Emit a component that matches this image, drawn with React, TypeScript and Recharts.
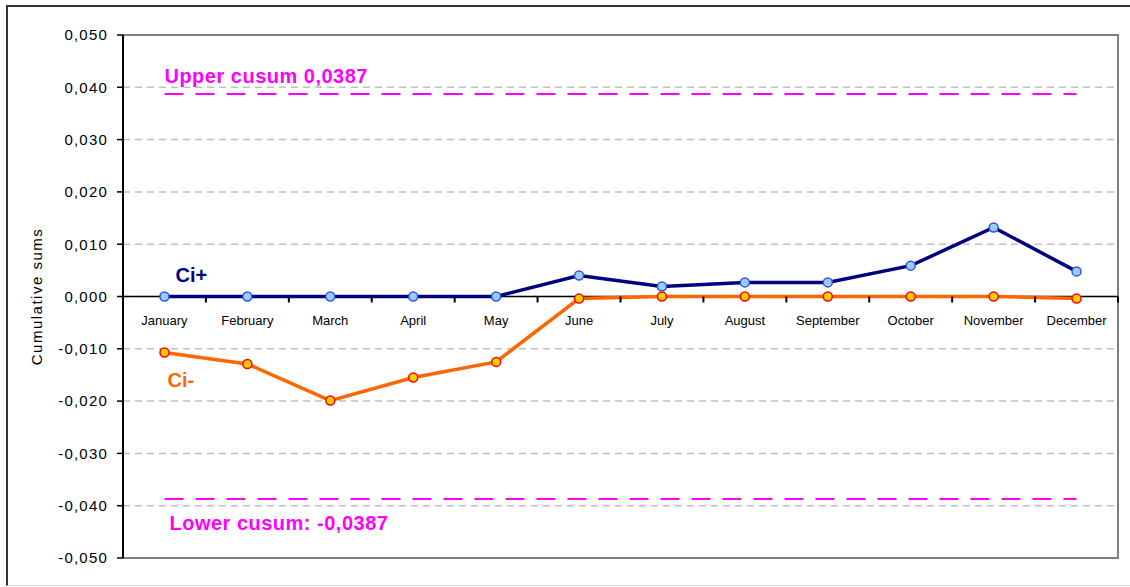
import React from 'react';
import {
  LineChart, Line, XAxis, YAxis, CartesianGrid, ReferenceLine, ReferenceArea, LabelList,
} from 'recharts';

const months = ['January', 'February', 'March', 'April', 'May', 'June', 'July', 'August', 'September', 'October', 'November', 'December'];
const ciPlus = [0, 0, 0, 0, 0, 0.0040, 0.0019, 0.0027, 0.0027, 0.0059, 0.0132, 0.0048];
const ciMinus = [-0.0107, -0.0129, -0.0199, -0.0155, -0.0125, -0.0004, 0, 0, 0, 0, 0, -0.0004];
const yTicks = [-0.05, -0.04, -0.03, -0.02, -0.01, 0, 0.01, 0.02, 0.03, 0.04, 0.05];
const upperCusum = 0.0387;
const lowerCusum = -0.0387;
const upperLabel = 'Upper cusum 0,0387';
const lowerLabel = 'Lower cusum: -0,0387';
const yTitle = 'Cumulative sums';

const data = months.map((m, i) => ({ month: m, plus: ciPlus[i], minus: ciMinus[i] }));

const W = 1130;
const H = 587;
const M = { top: 35, right: 12, bottom: 0, left: 0 };
const Y_AXIS_W = 123;
const X_AXIS_H = 29;
const PLOT_W = W - M.left - M.right - Y_AXIS_W;
const PLOT_H = H - M.top - M.bottom - X_AXIS_H;
const Y_MIN = -0.05;
const Y_MAX = 0.05;
// zero line position derived from the y domain
const ZERO_Y = M.top + ((Y_MAX - 0) / (Y_MAX - Y_MIN)) * PLOT_H;
const BAND = PLOT_W / months.length;

const FONT = 'Arial, "Liberation Sans", sans-serif';

const fmt = (v: number) => {
  const s = Math.abs(v).toFixed(3).replace('.', ',');
  return v < -1e-9 ? '-' + s : s;
};

const XTick = (props: any) => {
  const { x, payload } = props;
  const zy = ZERO_Y;
  const tx = Number(x) + BAND / 2;
  return (
    <g>
      <path d={`M${tx},${zy}L${tx},${zy + 6}`} stroke="#000000" strokeWidth={2} fill="none" />
      <text x={x} y={zy + 28} textAnchor="middle" fontFamily={FONT} fontSize={13} fill="#000">
        {payload.value}
      </text>
    </g>
  );
};

const firstLabel = (text: string, color: string, dx: number, dy: number) => (props: any) => {
  const { x, y, index } = props;
  if (index !== 0) return null;
  return (
    <text x={x + dx} y={y + dy} fontFamily={FONT} fontSize={20} fontWeight="bold" fill={color}>
      {text}
    </text>
  );
};

const cusumLabel = (text: string, dx: number, dy: number) => (props: any) => {
  const vb = props.viewBox || {};
  return (
    <text x={vb.x + dx} y={vb.y + dy} fontFamily={FONT} fontSize={20} fontWeight="bold" fill="#FF00FF" letterSpacing={0.5}>
      {text}
    </text>
  );
};

export default function App() {
  return (
    <div style={{ position: 'absolute', left: 0, top: 0, width: W, height: H, background: '#fff', overflow: 'hidden' }}>
      <div
        style={{
          position: 'absolute', left: 6, top: 5, width: W + 20, height: H - 6,
          borderLeft: '2px solid #333', borderTop: '2px solid #333', borderBottom: '1px solid #ddd',
          boxSizing: 'border-box',
        }}
      />
      <div style={{ position: 'absolute', left: 0, top: 0 }}>
        <LineChart width={W} height={H} data={data} margin={M}>
          <ReferenceArea y1={Y_MIN} y2={Y_MAX} fill="none" stroke="#808080" strokeWidth={2} ifOverflow="visible" />
          <CartesianGrid horizontal vertical={false} stroke="#c0c0c0" strokeDasharray="7 5" strokeWidth={1.5} />
          <XAxis
            dataKey="month"
            scale="band"
            height={X_AXIS_H}
            axisLine={false}
            tickLine={false}
            tick={(p: any) => <XTick {...p} />}
            interval={0}
          />
          <YAxis
            width={Y_AXIS_W}
            domain={[Y_MIN, Y_MAX]}
            ticks={yTicks}
            tickFormatter={fmt}
            axisLine={{ stroke: '#000', strokeWidth: 2 }}
            tickLine={{ stroke: '#000', strokeWidth: 1.5 }}
            tickSize={6}
            tickMargin={9}
            tick={{ fontFamily: FONT, fontSize: 15, fill: '#000', letterSpacing: 1.2 }}
            allowDataOverflow
            label={{ value: yTitle, angle: -90, position: 'insideLeft', offset: 37, style: { fontFamily: FONT, fontSize: 15, fill: '#000', textAnchor: 'middle', letterSpacing: 1.5 } }}
          />
          <ReferenceLine y={0} stroke="#000" strokeWidth={1.5} />
          <ReferenceLine
            segment={[{ x: months[0], y: upperCusum }, { x: months[months.length - 1], y: upperCusum }]}
            stroke="#FF00FF"
            strokeWidth={2}
            strokeDasharray="19 12"
            label={cusumLabel(upperLabel, 0, -11)}
          />
          <ReferenceLine
            segment={[{ x: months[0], y: lowerCusum }, { x: months[months.length - 1], y: lowerCusum }]}
            stroke="#FF00FF"
            strokeWidth={2}
            strokeDasharray="19 12"
            label={cusumLabel(lowerLabel, 5, 31)}
          />
          <Line
            dataKey="plus"
            stroke="#000080"
            strokeWidth={3.5}
            dot={{ r: 4.5, fill: '#99CCFF', stroke: '#3355DD', strokeWidth: 1.5 }}
            isAnimationActive={false}
          >
            <LabelList dataKey="plus" content={firstLabel('Ci+', '#000080', 11, -15)} />
          </Line>
          <Line
            dataKey="minus"
            stroke="#FF6600"
            strokeWidth={3.5}
            dot={{ r: 4.5, fill: '#FFCC00', stroke: '#FF0000', strokeWidth: 1.5 }}
            isAnimationActive={false}
          >
            <LabelList dataKey="minus" content={firstLabel('Ci-', '#FF6600', 3, 35)} />
          </Line>
        </LineChart>
      </div>
    </div>
  );
}
